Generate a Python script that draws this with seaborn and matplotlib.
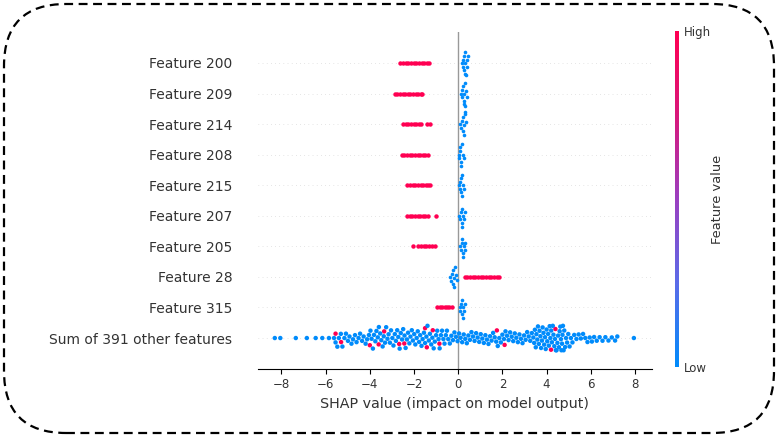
import numpy as np
import pandas as pd
import matplotlib
matplotlib.use("Agg")
import matplotlib.pyplot as plt
import seaborn as sns
from matplotlib.colors import LinearSegmentedColormap
from matplotlib.cm import ScalarMappable
from matplotlib.patches import FancyBboxPatch

# feature rows, top to bottom
features = ["Feature 200", "Feature 209", "Feature 214", "Feature 208", "Feature 215",
            "Feature 207", "Feature 205", "Feature 28", "Feature 315",
            "Sum of 391 other features"]
other = features[-1]

# SHAP values: high feature value (red) / low feature value (blue)
high_vals = [
    [-2.62, -2.5, -2.38, -2.26, -2.14, -2.02, -1.9, -1.78, -1.66, -1.54, -1.42, -1.32],
    [-2.88, -2.76, -2.64, -2.52, -2.4, -2.28, -2.16, -2.04, -1.92, -1.8, -1.7, -1.62],
    [-2.5, -2.38, -2.26, -2.14, -2.02, -1.9, -1.78, -1.7, -1.42, -1.27],
    [-2.56, -2.44, -2.32, -2.2, -2.08, -1.96, -1.84, -1.72, -1.6, -1.48, -1.36],
    [-2.3, -2.18, -2.06, -1.94, -1.82, -1.7, -1.58, -1.46, -1.36, -1.28],
    [-2.32, -2.2, -2.08, -1.96, -1.84, -1.72, -1.6, -1.48, -1.38, -1.0],
    [-2.05, -1.8, -1.68, -1.56, -1.44, -1.32, -1.2, -1.06],
    [0.3, 0.42, 0.54, 0.66, 0.78, 0.9, 1.02, 1.14, 1.26, 1.38, 1.5, 1.62, 1.74, 1.84],
    [-0.95, -0.84, -0.73, -0.62, -0.51, -0.4, -0.28],
    [-5.55, -5.3, -4.0, -3.6, -3.35, -2.67, -2.44, -1.5, -1.42, -1.15, -0.85,
     1.75, 2.1, 4.2, 4.4],
]
low_vals = [
    [0.16, 0.2, 0.23, 0.26, 0.28, 0.3, 0.31, 0.33, 0.35, 0.38, 0.42, 0.46],
    [0.12, 0.16, 0.19, 0.22, 0.24, 0.26, 0.28, 0.3, 0.33, 0.37, 0.41],
    [0.1, 0.14, 0.17, 0.2, 0.22, 0.24, 0.26, 0.29, 0.32, 0.36],
    [0.02, 0.05, 0.08, 0.1, 0.12, 0.14, 0.17, 0.2, 0.24],
    [0.03, 0.06, 0.09, 0.11, 0.13, 0.15, 0.18, 0.21, 0.25],
    [0.05, 0.09, 0.12, 0.15, 0.17, 0.19, 0.22, 0.26, 0.3],
    [0.08, 0.12, 0.15, 0.18, 0.2, 0.22, 0.25, 0.29, 0.33],
    [-0.36, -0.32, -0.28, -0.25, -0.22, -0.2, -0.17, -0.14, -0.1, -0.06],
    [0.06, 0.1, 0.13, 0.16, 0.18, 0.2, 0.23, 0.27, 0.31],
    [-8.3, -8.05, -7.35, -6.85, -6.45, -6.15, -5.85,
     -5.62, -5.55, -5.47, -5.4, -5.31, -5.24, -5.15, -5.08, -4.99, -4.92, -4.83, -4.76,
     -4.67, -4.6, -4.51, -4.44, -4.35, -4.28, -4.19, -4.12, -4.04,
     -3.97, -3.92, -3.86, -3.81, -3.75, -3.7, -3.64, -3.59, -3.53, -3.48, -3.42, -3.37,
     -3.31, -3.26, -3.2, -3.15, -3.09, -3.04, -2.98, -2.93, -2.87, -2.82, -2.76, -2.71,
     -2.65, -2.6, -2.54, -2.49, -2.43, -2.38, -2.32, -2.27, -2.21, -2.16, -2.1, -2.05,
     -1.99, -1.94, -1.88, -1.83, -1.77, -1.72, -1.66, -1.61, -1.55, -1.5, -1.44, -1.39,
     -1.33, -1.28, -1.22, -1.17, -1.11, -1.06, -1.0, -0.95, -0.89, -0.84, -0.78, -0.73,
     -0.67, -0.62, -0.56, -0.51,
     -0.45, -0.38, -0.31, -0.24, -0.17, -0.1, -0.03, 0.04, 0.11, 0.18, 0.25, 0.32, 0.39,
     0.46, 0.53, 0.6, 0.67, 0.74, 0.81, 0.88, 0.95, 1.02, 1.09, 1.16, 1.23, 1.3, 1.37,
     1.44, 1.51, 1.58, 1.65, 1.72, 1.79, 1.86, 1.93, 2.0, 2.07, 2.14, 2.21, 2.28, 2.35,
     2.42, 2.49, 2.56, 2.63, 2.7, 2.77, 2.84, 2.91, 2.98, 3.05, 3.12, 3.19, 3.26, 3.33,
     3.4, 3.44, 3.47, 3.51, 3.54, 3.58, 3.61, 3.65, 3.68, 3.72, 3.75, 3.79, 3.82, 3.86,
     3.89, 3.93, 3.96, 4.0, 4.03, 4.07, 4.1, 4.14, 4.17, 4.21, 4.24, 4.28, 4.31, 4.35,
     4.38, 4.42, 4.45, 4.49, 4.52, 4.56, 4.59, 4.62, 4.65, 4.67, 4.7, 4.72, 4.74, 4.77,
     4.8, 4.84, 4.88, 4.93, 4.98, 5.04, 5.1, 5.17,
     5.25, 5.35, 5.45, 5.55, 5.65, 5.75, 5.85, 5.95, 6.05, 6.15, 6.27, 6.4, 6.53, 6.66,
     6.8, 6.95, 7.1, 7.2,
     7.95],
]

rows = []
for name, hi, lo in zip(features, high_vals, low_vals):
    rows += [(name, v, "high") for v in hi]
    rows += [(name, v, "low") for v in lo]
df = pd.DataFrame(rows, columns=["feature", "shap", "level"])

red = "#ff0052"
blue = "#008bfb"
dot = 3.2

fig = plt.figure(figsize=(7.78, 4.37), dpi=100)

# dashed rounded frame around the whole figure
bg = fig.add_axes([0, 0, 1, 1])
bg.set_xlim(0, 778)
bg.set_ylim(0, 437)
bg.axis("off")
bg.add_patch(FancyBboxPatch((4, 4), 770, 429, boxstyle="round,pad=0,rounding_size=62",
                            fill=False, ec="black", lw=1.6, ls=(0, (4, 2.5))))

ax = fig.add_axes([258 / 778, 68.4 / 437, 394 / 778, 336.2 / 437])
for i in range(len(features)):
    ax.axhline(i, color="#cccccc", lw=0.5, dashes=(1, 5), zorder=-1)
ax.axvline(0, color="#999999", lw=1, zorder=-1)

# red bands of the single features sit flat on their row
flat = df[(df.level == "high") & (df.feature != other)]
sns.stripplot(data=flat, x="shap", y="feature", order=features, jitter=False,
              color=red, size=dot, linewidth=0, ax=ax)
# blue lumps of the single features, smaller dots so they pack tighter
lumps = df[(df.level == "low") & (df.feature != other)]
sns.swarmplot(data=lumps, x="shap", y="feature", order=features, color=blue,
              size=2.6, linewidth=0, warn_thresh=1, ax=ax)
# the summed row
rest = df[df.feature == other]
sns.swarmplot(data=rest, x="shap", y="feature", hue="level", order=features,
              palette={"high": red, "low": blue}, size=dot, linewidth=0,
              legend=False, warn_thresh=1, ax=ax)

ax.set_xlim(-9.06, 8.77)
ax.set_ylim(10, -1)
ax.set_xticks([-8, -6, -4, -2, 0, 2, 4, 6, 8])
ax.set_ylabel("")
ax.set_xlabel("SHAP value (impact on model output)", fontsize=10.3, color="#333333")
for s in ["top", "right", "left"]:
    ax.spines[s].set_visible(False)
ax.tick_params(axis="y", length=0, pad=18.5, labelsize=10, labelcolor="#333333")
ax.tick_params(axis="x", labelsize=8.5, labelcolor="#333333")

# colour bar
cmap = LinearSegmentedColormap.from_list(
    "shap_rb", [blue, "#5b6be8", "#9b3fc0", "#d8177a", red])
cax = fig.add_axes([675 / 778, 70 / 437, 4 / 778, 336 / 437])
cb = fig.colorbar(ScalarMappable(cmap=cmap), cax=cax, ticks=[0, 1])
cb.set_ticklabels(["Low", "High"])
cb.outline.set_visible(False)
cax.tick_params(length=0, labelsize=8.5, labelcolor="#333333")
cb.set_label("Feature value", size=9.4, labelpad=0, color="#333333")

fig.savefig("out.png", dpi=100)
